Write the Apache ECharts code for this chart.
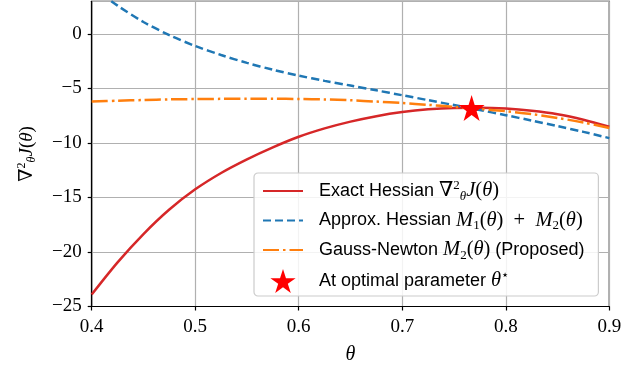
<!DOCTYPE html>
<html>
<head>
<meta charset="utf-8">
<script src="https://cdn.jsdelivr.net/npm/echarts@6/dist/echarts.min.js"></script>
<style>
html,body{margin:0;padding:0;background:#fff;}
#c{width:639px;height:370px;}
</style>
</head>
<body>
<div id="c"></div>
<script>
// ---- data ----
var thetas = [0.4,0.425,0.45,0.475,0.5,0.525,0.55,0.575,0.6,0.625,0.65,0.675,0.7,0.725,0.75,0.775,0.8,0.825,0.85,0.875,0.9];
var exactHessian = [-23.9,-20.95,-18.35,-16.1,-14.25,-12.75,-11.5,-10.4,-9.43,-8.66,-8.04,-7.54,-7.16,-6.91,-6.78,-6.76,-6.84,-7.04,-7.36,-7.86,-8.5];
var approxHessian = [4.3,2.6,1.1,-0.1,-1.1,-1.93,-2.65,-3.28,-3.82,-4.3,-4.73,-5.17,-5.62,-6.07,-6.52,-6.98,-7.45,-7.94,-8.45,-8.98,-9.55];
var gaussNewton = [-6.2,-6.12,-6.06,-6.0,-5.97,-5.95,-5.94,-5.94,-5.96,-6.0,-6.08,-6.2,-6.33,-6.5,-6.68,-6.88,-7.08,-7.35,-7.7,-8.12,-8.62];
var optimalTheta = [0.767];
var optimalValue = [-6.8];
var xTicks = [0.4,0.5,0.6,0.7,0.8,0.9];
var yTicks = [-25,-20,-15,-10,-5,0];

function pairs(xs, ys){ return xs.map(function(x,i){ return [x, ys[i]]; }); }

var starPath = 'path://M50,0 L61.2,34.5 L97.6,34.5 L68.2,55.9 L79.4,90.5 L50,69.1 L20.6,90.5 L31.8,55.9 L2.4,34.5 L38.8,34.5 Z';
var serif = '"Liberation Serif","DejaVu Serif",serif';
var sans = '"Liberation Sans","DejaVu Sans",sans-serif';

var mathRich = {
  t:{fontFamily:sans,fontSize:18,color:'#000',lineHeight:24},
  m:{fontFamily:serif,fontStyle:'italic',fontSize:20.5,color:'#000',lineHeight:24},
  r:{fontFamily:serif,fontSize:20.5,color:'#000',lineHeight:24},
  sup:{fontFamily:serif,fontSize:13,color:'#000',verticalAlign:'top',lineHeight:16},
  sub:{fontFamily:serif,fontSize:13,fontStyle:'italic',color:'#000',verticalAlign:'bottom',lineHeight:16},
  subr:{fontFamily:serif,fontSize:13,color:'#000',verticalAlign:'bottom',lineHeight:16}
};

var legendText = {
  exact:'{t|Exact Hessian }{r|∇}{sup|2}{sub|θ}{m|J}{r|(}{m|θ}{r|)}',
  approx:'{t|Approx. Hessian }{m|M}{subr|1}{r|(}{m|θ}{r|)  +  }{m|M}{subr|2}{r|(}{m|θ}{r|)}',
  gn:'{t|Gauss-Newton }{m|M}{subr|2}{r|(}{m|θ}{r|)}{t| (Proposed)}',
  star:'{t|At optimal parameter }{m|θ}{sup|⋆}'
};
var hideSym = {color:'rgba(0,0,0,0)', borderWidth:0};

var chart = echarts.init(document.getElementById('c'), null, {renderer:'canvas'});
chart.setOption({
  animation:false,
  backgroundColor:'#fff',
  grid:{left:91.7, right:29.7, top:1.3, bottom:63.5, show:true, borderColor:'#000', borderWidth:1.2, backgroundColor:'transparent', containLabel:false},
  xAxis:{
    type:'value', min:0.4, max:0.9, interval:0.1,
    name:'θ', nameLocation:'middle', nameGap:38,
    nameTextStyle:{fontFamily:serif, fontStyle:'italic', fontSize:20, color:'#000'},
    axisLine:{show:true, onZero:false, lineStyle:{color:'#000', width:1.2}},
    axisTick:{show:true, length:4, lineStyle:{color:'#000', width:1.2}},
    axisLabel:{fontFamily:serif, fontSize:19, color:'#000', margin:11,
      formatter:function(v){ return xTicks.some(function(t){return Math.abs(t-v)<1e-9;}) ? v.toFixed(1) : ''; }},
    splitLine:{show:true, lineStyle:{color:'#b0b0b0', width:1.2}}
  },
  yAxis:{
    type:'value', min:-25, max:3, interval:5,
    name:'{r|∇}{sup|2}{sub|θ}{m|J}{r|(}{m|θ}{r|)}', nameLocation:'middle', nameGap:54, nameRotate:90,
    nameTextStyle:{rich:{
      m:{fontFamily:serif,fontStyle:'italic',fontSize:19,color:'#000',lineHeight:22},
      r:{fontFamily:serif,fontSize:19,color:'#000',lineHeight:22},
      sup:{fontFamily:serif,fontSize:12,color:'#000',verticalAlign:'top',lineHeight:14},
      sub:{fontFamily:serif,fontSize:12,fontStyle:'italic',color:'#000',verticalAlign:'bottom',lineHeight:14}
    }},
    axisLine:{show:true, onZero:false, lineStyle:{color:'#000', width:1.2}},
    axisTick:{show:true, length:4, lineStyle:{color:'#000', width:1.2}},
    axisLabel:{fontFamily:serif, fontSize:19, color:'#000', margin:10, showMaxLabel:false,
      formatter:function(v){ if(yTicks.indexOf(v)<0) return ''; return v<0 ? '\u2212'+Math.abs(v) : String(v); }},
    splitLine:{show:true, lineStyle:{color:'#b0b0b0', width:1.2}}
  },
  legend:{
    orient:'vertical', left:254, top:173,
    padding:[6,14,3,8], itemGap:7, itemWidth:40, itemHeight:24,
    backgroundColor:'rgba(255,255,255,0.85)', borderColor:'#cccccc', borderWidth:1.2, borderRadius:4,
    data:[
      {name:'exact', itemStyle:hideSym},
      {name:'approx', itemStyle:hideSym},
      {name:'gn', itemStyle:hideSym},
      {name:'star'}
    ],
    formatter:function(n){ return legendText[n]; },
    textStyle:{rich:mathRich, padding:[0,0,0,11]}
  },
  series:[
    {name:'exact', type:'line', data:pairs(thetas, exactHessian), showSymbol:false, symbol:'none', smooth:0.3,
      lineStyle:{color:'#d62728', width:2.5}, itemStyle:{color:'#d62728'}, z:3},
    {name:'approx', type:'line', data:pairs(thetas, approxHessian), showSymbol:false, symbol:'none', smooth:0.3,
      lineStyle:{color:'#1f77b4', width:2.5, type:[8,4]}, itemStyle:{color:'#1f77b4'}, z:4},
    {name:'gn', type:'line', data:pairs(thetas, gaussNewton), showSymbol:false, symbol:'none', smooth:0.3,
      lineStyle:{color:'#ff7f0e', width:2.5, type:[16,4,2.5,4]}, itemStyle:{color:'#ff7f0e'}, z:5},
    {name:'star', type:'scatter', data:pairs(optimalTheta, optimalValue), symbol:starPath, symbolSize:26,
      itemStyle:{color:'#ff0000', opacity:1}, z:6}
  ]
});
</script>
</body>
</html>
